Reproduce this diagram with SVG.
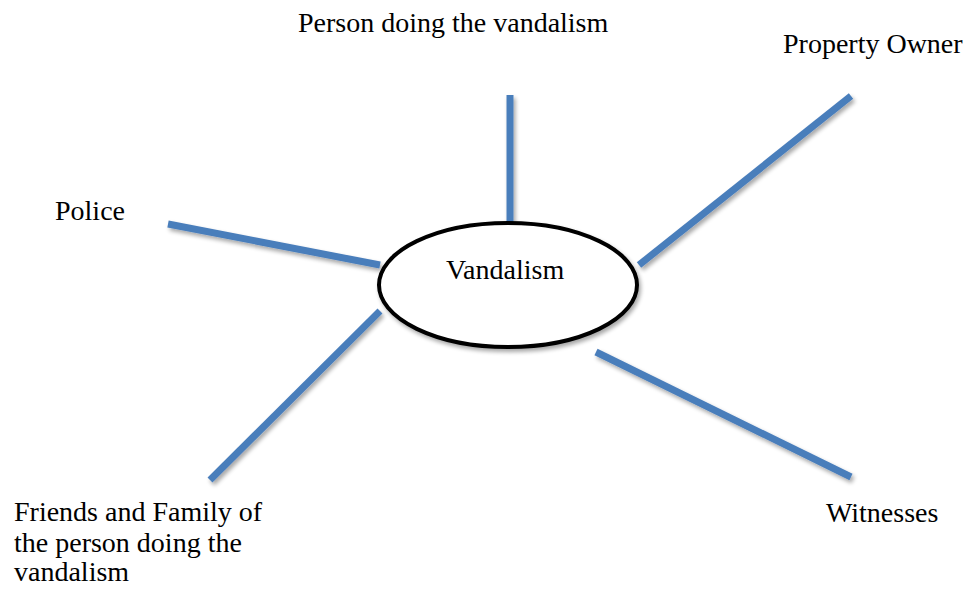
<svg xmlns="http://www.w3.org/2000/svg" width="969" height="589" viewBox="0 0 969 589">
<defs>
<filter id="sh" x="-20%" y="-20%" width="140%" height="140%">
<feGaussianBlur in="SourceAlpha" stdDeviation="2"/>
<feOffset dx="2" dy="3" result="b"/>
<feComponentTransfer><feFuncA type="linear" slope="0.35"/></feComponentTransfer>
<feMerge><feMergeNode/><feMergeNode in="SourceGraphic"/></feMerge>
</filter>
</defs>
<style>
.t{font-family:"Liberation Serif","Times New Roman",serif;font-size:28px;fill:#000}
.c{stroke:#4a7ebb;stroke-width:7;fill:none}
</style>
<rect width="969" height="589" fill="#fff"/>
<g id="connectors" filter="url(#sh)">
<line class="c" x1="510" y1="95" x2="510" y2="222"/>
<line class="c" x1="168" y1="224" x2="380" y2="265"/>
<line class="c" x1="851" y1="96" x2="639" y2="265"/>
<line class="c" x1="380" y1="311" x2="210" y2="480"/>
<line class="c" x1="596" y1="352" x2="851" y2="477"/>
</g>
<g id="vandalism">
<ellipse cx="508" cy="285" rx="129" ry="62" fill="#fff" stroke="#000" stroke-width="4" filter="url(#sh)"/>
<text class="t" x="446" y="279">Vandalism</text>
</g>
<g id="person"><text class="t" x="298" y="32">Person doing the vandalism</text></g>
<g id="owner"><text class="t" x="783" y="53">Property Owner</text></g>
<g id="police"><text class="t" x="55" y="220">Police</text></g>
<g id="witnesses"><text class="t" x="826" y="522">Witnesses</text></g>
<g id="friends"><text class="t" x="14" y="521">Friends and Family of</text><text class="t" x="14" y="552">the person doing the</text><text class="t" x="14" y="581">vandalism</text></g>
</svg>
